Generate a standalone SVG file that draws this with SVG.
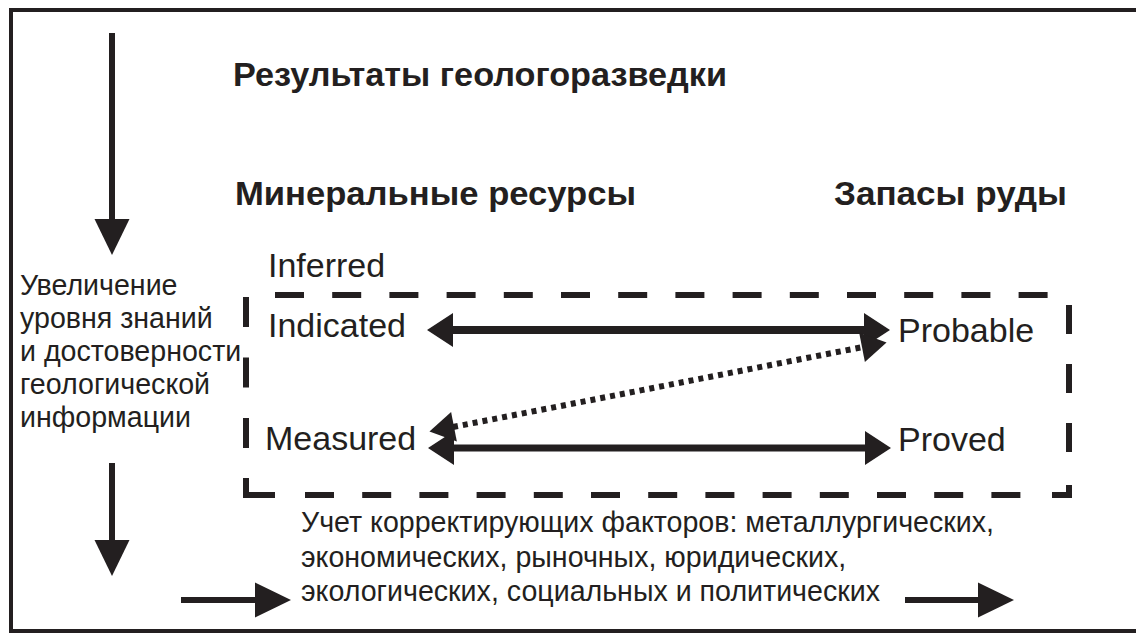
<svg xmlns="http://www.w3.org/2000/svg" width="1136" height="634" viewBox="0 0 1136 634">
  <style>
    .t { font-family: "Liberation Sans", Arial, sans-serif; fill: #231f20; }
    .b { font-weight: bold; font-size: 33px; }
    .lab { font-size: 34px; }
    .sm { font-size: 28.6px; }
    .ln { stroke: #231f20; fill: none; stroke-linecap: butt; }
    .dash { stroke: #231f20; stroke-width: 6; fill: none; stroke-linecap: butt; stroke-linejoin: miter; }
  </style>
  <defs>
    <marker id="mBig" markerUnits="userSpaceOnUse" markerWidth="38" markerHeight="36" refX="1" refY="17.5" orient="auto-start-reverse" overflow="visible">
      <path d="M0,0 L36,17.5 L0,35 Z" fill="#231f20"/>
    </marker>
    <marker id="mMid" markerUnits="userSpaceOnUse" markerWidth="28" markerHeight="36" refX="1" refY="17" orient="auto-start-reverse" overflow="visible">
      <path d="M0,0 L26,17 L0,34 Z" fill="#231f20"/>
    </marker>
    <marker id="mDot" markerUnits="userSpaceOnUse" markerWidth="28" markerHeight="32" refX="1" refY="15" orient="auto-start-reverse" overflow="visible">
      <path d="M0,0 L25,15 L0,30 Z" fill="#231f20"/>
    </marker>
  </defs>
  <rect width="1136" height="634" fill="#ffffff"/>
  <rect id="frame" x="11" y="10" width="1140" height="621" fill="none" stroke="#231f20" stroke-width="4"/>

  <g id="box">
    <line class="dash" x1="275" y1="295" x2="1050" y2="295" stroke-dasharray="29 28.2"/>
    <line class="dash" x1="305" y1="495" x2="1046" y2="495" stroke-dasharray="29 28.2"/>
    <line class="dash" x1="246" y1="297" x2="246" y2="448" stroke-dasharray="30 30.5"/>
    <line class="dash" x1="1069" y1="305" x2="1069" y2="455" stroke-dasharray="29 30"/>
    <path class="dash" d="M246,478 V495 H275 M1052,495 H1069 V485"/>
  </g>

  <g id="title"><text class="t b" x="233" y="86" textLength="494" lengthAdjust="spacingAndGlyphs">Результаты геологоразведки</text></g>
  <g id="resources"><text class="t b" x="235" y="205" textLength="401" lengthAdjust="spacingAndGlyphs">Минеральные ресурсы</text></g>
  <g id="reserves"><text class="t b" x="834" y="205" textLength="233" lengthAdjust="spacingAndGlyphs">Запасы руды</text></g>

  <g id="inferred"><text class="t lab" x="268" y="277">Inferred</text></g>
  <g id="indicated"><text class="t lab" x="268" y="337">Indicated</text></g>
  <g id="measured"><text class="t lab" x="265" y="450">Measured</text></g>
  <g id="probable"><text class="t lab" x="898" y="342">Probable</text></g>
  <g id="proved"><text class="t lab" x="898" y="451">Proved</text></g>

  <g id="knowledge">
    <text class="t sm" x="20" y="295">Увеличение</text>
    <text class="t sm" x="20" y="328">уровня знаний</text>
    <text class="t sm" x="20" y="361">и достоверности</text>
    <text class="t sm" x="20" y="394">геологической</text>
    <text class="t sm" x="20" y="427">информации</text>
  </g>

  <g id="factors">
    <text class="t sm" x="301" y="532">Учет корректирующих факторов: металлургических,</text>
    <text class="t sm" x="301" y="567">экономических, рыночных, юридических,</text>
    <text class="t sm" x="301" y="601">экологических, социальных и политических</text>
  </g>

  <g id="connectors">
    <line class="ln" x1="112" y1="33" x2="112" y2="220" stroke-width="6" marker-end="url(#mBig)"/>
    <line class="ln" x1="112" y1="463" x2="112" y2="541" stroke-width="6" marker-end="url(#mBig)"/>
    <line class="ln" x1="181" y1="600" x2="256" y2="600" stroke-width="6" marker-end="url(#mBig)"/>
    <line class="ln" x1="905" y1="600" x2="979" y2="600" stroke-width="6" marker-end="url(#mBig)"/>
    <line class="ln" x1="452" y1="330" x2="865" y2="330" stroke-width="8" marker-start="url(#mMid)" marker-end="url(#mMid)"/>
    <line class="ln" x1="453" y1="448" x2="866" y2="448" stroke-width="7" marker-start="url(#mMid)" marker-end="url(#mMid)"/>
    <line class="ln" x1="453" y1="427" x2="863" y2="347" stroke-width="6" stroke-dasharray="5 5" marker-start="url(#mDot)" marker-end="url(#mDot)"/>
  </g>
</svg>
